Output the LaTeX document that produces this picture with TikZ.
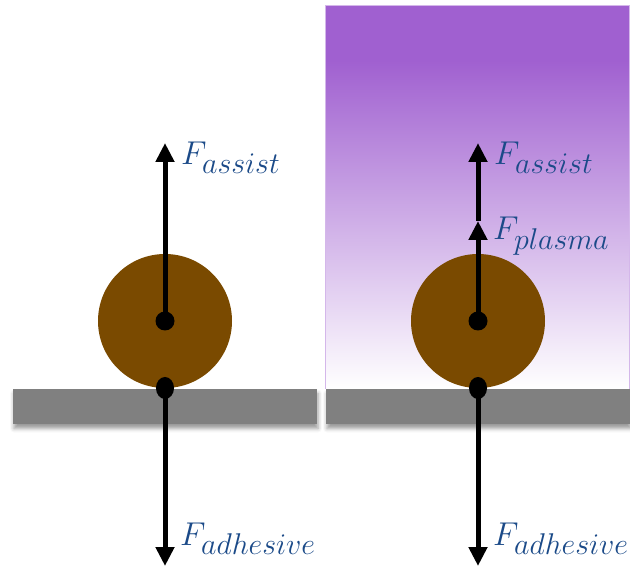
\RequirePackage{fix-cm}
\documentclass[tikz,border=0pt]{standalone}
\usetikzlibrary{arrows.meta,shadows.blur,shapes.geometric}
\definecolor{plasma}{HTML}{A060D0}
\definecolor{particle}{HTML}{7A4A00}
\definecolor{labelblue}{HTML}{1B4A88}
\definecolor{slabgray}{HTML}{808080}
\DeclareMathSizes{33}{33}{30}{24}
\tikzset{
  force/.style={line width=5pt,-{Triangle[length=19pt,width=18pt]}},
  slab/.style={rectangle,fill=slabgray,minimum width=304pt,minimum height=35pt,inner sep=0pt,
    blur shadow={shadow xshift=1pt,shadow yshift=-4pt,shadow blur radius=4pt,shadow opacity=40}},
  ball/.style={circle,fill=particle,minimum size=134pt,inner sep=0pt},
  dot/.style={circle,fill=black,minimum size=19pt,inner sep=0pt},
  contact/.style={ellipse,fill=black,minimum width=18pt,minimum height=22pt,inner sep=0pt},
  forcelabel/.style={anchor=base west,text=labelblue,inner sep=0pt,font=\fontsize{33}{40}\selectfont},
}

\begin{document}
\begin{tikzpicture}[x=1pt,y=-1pt]
\useasboundingbox (0,0) rectangle (630,572);
% plasma on the right
\fill[plasma] (325,6) rectangle (629,60);
\shade[top color=plasma,bottom color=white] (325,60) rectangle (629,389);
\draw[plasma!45,line width=1pt] (325,389) -- (325,6) -- (629,6) -- (629,389);
% substrate, particle and forces
\foreach \n/\x in {L/165,R/478} {
  \node[slab] (slab\n) at (\x,407) {};
  \node[ball] (ball\n) at (\x,321) {};
  \node[dot] (center\n) at (ball\n.center) {};
  \node[contact] (touch\n) at (\x,388) {};
  \coordinate (top\n) at (\x,143);
  \coordinate (bottom\n) at (\x,566);
  \draw[force] (touch\n.center) -- (bottom\n);
  \node[forcelabel] (adh\n) at (\x+15,545) {$F_{adhesive}$};
  \node[forcelabel] (assist\n) at (\x+16,165) {$F_{assist}$};
}
\coordinate (plasmaR) at (478,221);
\draw[force] (centerL.center) -- (topL);
\draw[force] (centerR.center) -- (plasmaR);
\draw[force] (plasmaR) -- (topR);
\node[forcelabel] (plasmalabel) at (493,240) {$F_{plasma}$};
\end{tikzpicture}
\end{document}
